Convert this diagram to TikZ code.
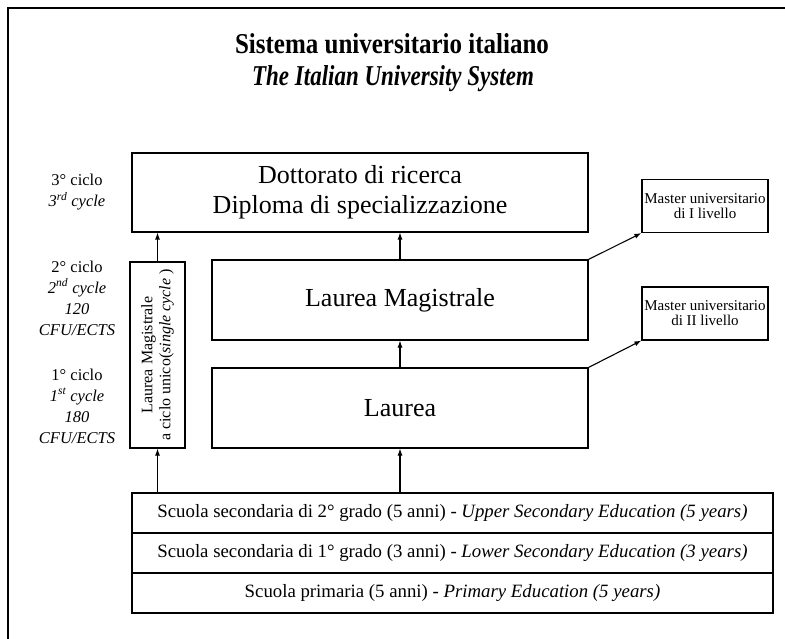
\documentclass[tikz,border=0pt]{standalone}
\usepackage{fontspec}
\setmainfont{Liberation Serif}
\usetikzlibrary{arrows.meta}

\tikzset{
  box/.style={draw, line width=1.1pt, inner sep=0pt, align=center},
  rowbox/.style={box, minimum width=641pt, minimum height=40pt, font=\fontsize{18.8}{20}\selectfont},
  masterbox/.style={box, minimum width=126pt, minimum height=53pt, font=\fontsize{15}{15}\selectfont},
  cyclelabel/.style={align=center, font=\fontsize{16.5}{21}\selectfont},
  uparrow/.style={line width=1.1pt, -{Latex[length=7pt,width=5pt]}}
}

\begin{document}
\begin{tikzpicture}[x=1pt, y=-1pt]
        \useasboundingbox (0,0) rectangle (785,639);

        % Frame of the page
        \draw[line width=2.2pt] (8,639) -- (8,8) -- (785,8);

        % Title
        \node (title) at (392,44) {\fontsize{25}{30}\selectfont\bfseries\scalebox{1}[1.15]{Sistema universitario italiano}};
        \node (subtitle) at (393,79) {\fontsize{25}{30}\selectfont\bfseries\itshape\scalebox{0.92}[1.15]{The Italian University System}};

        % Main degrees
        \node[box, minimum width=456pt, minimum height=79pt, font=\fontsize{26}{30}\selectfont] (dott) at (360,192.5)
            {Dottorato di ricerca\\Diploma di specializzazione};
        \node[box, minimum width=376pt, minimum height=80pt, font=\fontsize{26}{30}\selectfont] (lm) at (400,300) {Laurea Magistrale};
        \node[box, minimum width=376pt, minimum height=80pt, font=\fontsize{26}{30}\selectfont] (laurea) at (400,408) {Laurea};

        % Single cycle degree
        \node[box, minimum width=186pt, minimum height=55pt, rotate=90, font=\fontsize{16}{18}\selectfont] (lmcu) at (157.5,355)
            {Laurea Magistrale\\a ciclo unico(\textit{single cycle} )};

        % Masters
        \node[masterbox] (master1) at (705,206) {Master universitario\\di I livello};
        \node[masterbox] (master2) at (705,313.5) {Master universitario\\di II livello};

        % School
        \node[rowbox] (sec2) at (452.5,513) {Scuola secondaria di 2° grado (5 anni) - \textit{Upper Secondary Education (5 years)}};
        \node[rowbox] (sec1) at (452.5,553) {Scuola secondaria di 1° grado (3 anni) - \textit{Lower Secondary Education (3 years)}};
        \node[rowbox] (prim) at (452.5,593) {Scuola primaria (5 anni) - \textit{Primary Education (5 years)}};

        % Cycles
        \node[cyclelabel] (c3) at (77,192) {3° ciclo\\\textit{3\textsuperscript{rd} cycle}};
        \node[cyclelabel] (c2) at (77,298) {2° ciclo\\\textit{2\textsuperscript{nd} cycle}\\\textit{120}\\\textit{CFU/ECTS}};
        \node[cyclelabel] (c1) at (77,406) {1° ciclo\\\textit{1\textsuperscript{st} cycle}\\\textit{180}\\\textit{CFU/ECTS}};

        % Arrows
        \draw[uparrow] (sec2.north -| laurea.south) -- (laurea.south);
        \draw[uparrow] (laurea.north) -- (lm.south);
        \draw[uparrow] (lm.north) -- (lm.north |- dott.south);
        \draw[uparrow] (sec2.north -| lmcu.west) -- (lmcu.west);
        \draw[uparrow] (lmcu.east) -- (lmcu.east |- dott.south);
        \draw[uparrow] (lm.north east) -- (master1.south west);
        \draw[uparrow] (laurea.north east) -- (master2.south west);
    \end{tikzpicture}
\end{document}
